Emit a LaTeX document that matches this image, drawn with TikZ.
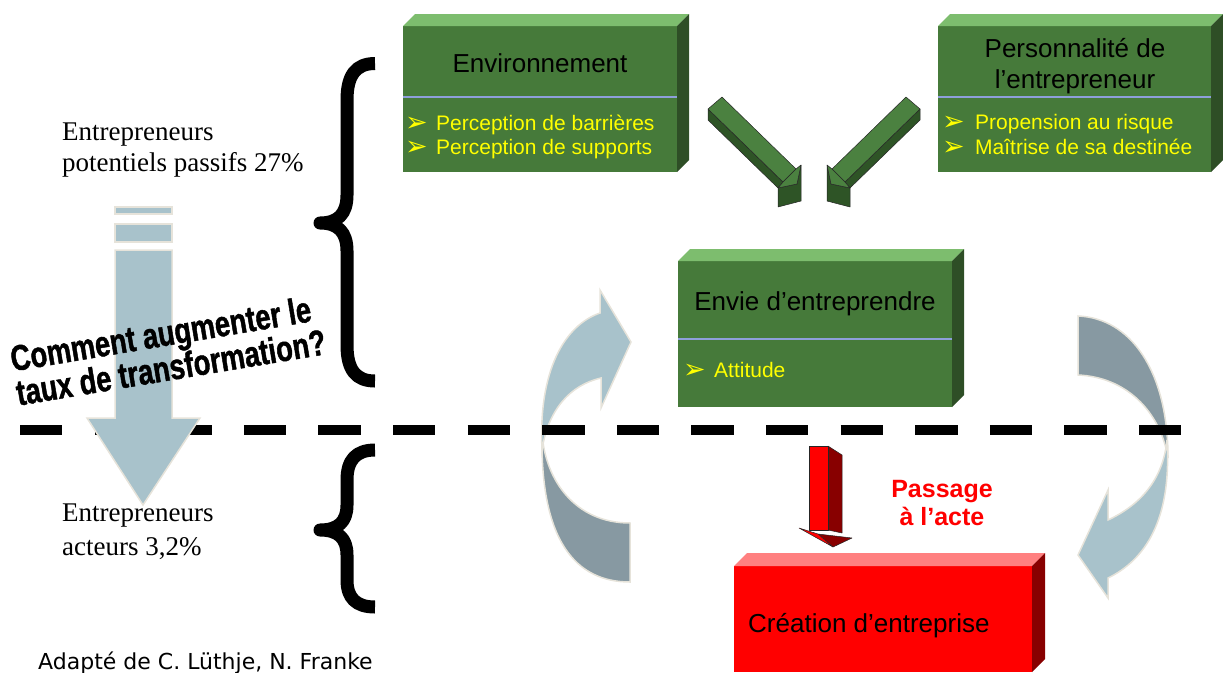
\documentclass[tikz,border=0pt]{standalone}
\usepackage{fontspec}
\setmainfont{Liberation Sans}
\newfontfamily\serifface{Liberation Serif}
\newfontfamily\dejavu{DejaVu Sans}
\newfontfamily\narrowsans[FakeStretch=0.76, BoldFeatures={FakeBold=1.2}]{Liberation Sans}
\usetikzlibrary{calc}

\definecolor{boxfront}{HTML}{467A3A}
\definecolor{boxtop}{HTML}{7DBD6E}
\definecolor{boxside}{HTML}{2E4E26}
\definecolor{arrowlight}{HTML}{4B8140}
\definecolor{arrowdark}{HTML}{2E5426}
\definecolor{rulecol}{HTML}{8E9FDA}
\definecolor{itemyellow}{HTML}{FFFF00}
\definecolor{flowlight}{HTML}{A8C2CB}
\definecolor{flowdark}{HTML}{8799A2}
\definecolor{flowedge}{HTML}{E6E3DA}
\definecolor{redfront}{HTML}{FF0000}
\definecolor{redtop}{HTML}{FF8080}
\definecolor{redside}{HTML}{880000}

% top and right faces of a block drawn behind a front node
\newcommand\boxfaces[4]{%
  \fill[#2] (#1.north west) -- ++(#4,-#4) -- ($(#1.north east)+(#4,-#4)$) -- (#1.north east) -- cycle;
  \fill[#3] (#1.north east) -- ++(#4,-#4) -- ($(#1.south east)+(#4,-#4)$) -- (#1.south east) -- cycle;}

% slanted 3D green arrow (pointing down-right)
\newcommand\greenarrow{%
  \filldraw[fill=arrowdark, arrowedge] (778,188) -- (797,184) -- (801,165) -- (801,201) -- (778,207) -- cycle;
  \filldraw[fill=arrowdark, arrowedge] (708,109) -- (783,182) -- (778,188) -- (708,120) -- cycle;
  \filldraw[fill=arrowlight, arrowedge] (708,109) -- (722,97) -- (796,169) -- (783,182) -- cycle;
  \filldraw[fill=arrowlight, arrowedge] (778,188) -- (797,184) -- (801,165) -- (796,169) -- (783,182) -- cycle;}

\tikzset{
  greenbox/.style={fill=boxfront, inner sep=0pt, outer sep=0pt, minimum width=274pt, minimum height=146pt},
  title/.style={font=\fontsize{26}{31}\selectfont, text=black, inner sep=0pt, anchor=base},
  item/.style={font=\fontsize{21}{25}\selectfont, text=itemyellow, inner sep=0pt, anchor=base west},
  itembullet/.style={font=\dejavu\fontsize{27}{30}\selectfont, text=itemyellow, inner sep=0pt, anchor=base west},
  sidetext/.style={font=\serifface\fontsize{27}{31}\selectfont, inner sep=0pt, anchor=base west},
  divider/.style={draw=rulecol, line width=2pt},
  flowband/.style={draw=flowedge, line width=1.5pt},
  arrowedge/.style={draw=black!85, line width=0.5pt, line join=round},
  bracestroke/.style={line width=13pt, line join=round},
  acttext/.style={font=\bfseries\fontsize{25}{28}\selectfont, text=redfront, inner sep=0pt, anchor=base}
}

\begin{document}
\begin{tikzpicture}[x=1pt,y=-1pt]
\useasboundingbox (0,0) rectangle (1223,672);

% circular flow arrows, left side
\filldraw[fill=flowdark, flowband] (542,433) .. controls (540,540) and (575,582) .. (630,582)
  -- (630,523) .. controls (575,523) and (545,480) .. (542,433) -- cycle;
\filldraw[fill=flowlight, flowband] (542,450) .. controls (538,370) and (565,325) .. (600,313)
  -- (600,290) -- (631,342) -- (601,408) -- (601,378)
  .. controls (570,385) and (548,410) .. (542,450) -- cycle;

% circular flow arrows, right side
\filldraw[fill=flowdark, flowband] (1078,316) .. controls (1130,318) and (1168,370) .. (1168,458)
  .. controls (1160,410) and (1125,377) .. (1078,375) -- cycle;
\filldraw[fill=flowlight, flowband] (1167,440) .. controls (1172,520) and (1145,560) .. (1108,578)
  -- (1108,598) -- (1078,555) -- (1108,490) -- (1108,520)
  .. controls (1140,505) and (1163,480) .. (1167,440) -- cycle;

% separation line
\coordinate (lineL) at (20,430);
\coordinate (lineR) at (1182,430);
\draw[line width=10pt, dash pattern=on 42.3pt off 32.3pt] (lineL) -- (lineR);

% broad downward arrow
\filldraw[fill=flowlight, flowband] (115,207) rectangle (172,214);
\filldraw[fill=flowlight, flowband] (115,224) rectangle (172,242);
\filldraw[fill=flowlight, flowband] (115,250) -- (172,250) -- (172,418) -- (200,418)
  -- (143,505) -- (87,418) -- (115,418) -- cycle;

% Environnement block
\node[greenbox] (env) at (540,99) {};
\boxfaces{env}{boxtop}{boxside}{12}
\draw[divider] (env.west |- 0,97) -- (env.east |- 0,97);
\node[title] (envT) at (540,72) {Environnement};
\node[itembullet] (envB1) at (405,131) {➢};
\node[item] (envI1) at (436,130) {Perception de barrières};
\node[itembullet] (envB2) at (405,155.5) {➢};
\node[item] (envI2) at (436,154.5) {Perception de supports};

% Personnalité block
\node[greenbox, minimum width=273pt] (pers) at (1074.5,99) {};
\boxfaces{pers}{boxtop}{boxside}{12}
\draw[divider] (pers.west |- 0,97) -- (pers.east |- 0,97);
\node[title] (persT1) at (1075,57) {Personnalité de};
\node[title] (persT2) at (1075,88) {l’entrepreneur};
\node[itembullet] (persB1) at (942,130.5) {➢};
\node[item] (persI1) at (975,129.5) {Propension au risque};
\node[itembullet] (persB2) at (942,155) {➢};
\node[item] (persI2) at (975,154) {Maîtrise de sa destinée};

% Envie block
\node[greenbox] (envie) at (815,334) {};
\boxfaces{envie}{boxtop}{boxside}{12}
\draw[divider] (envie.west |- 0,339) -- (envie.east |- 0,339);
\node[title] (envieT) at (815,310) {Envie d’entreprendre};
\node[itembullet] (envieB) at (683,378) {➢};
\node[item] (envieI) at (714,377) {Attitude};

% converging green arrows
\greenarrow
\begin{scope}[xshift=1628pt, xscale=-1]
\greenarrow
\end{scope}

% Création block
\node[fill=redfront, inner sep=0pt, outer sep=0pt, minimum width=298pt, minimum height=106pt] (crea) at (883,619) {};
\boxfaces{crea}{redtop}{redside}{13}
\node[title, anchor=base west] (creaT) at (748,632) {Création d’entreprise};

% red downward arrow
\filldraw[fill=redside, arrowedge] (828,446) -- (842,455) -- (842,533) -- (828,530) -- cycle;
\filldraw[fill=redfront, arrowedge] (809,446) rectangle (828,530);
\filldraw[fill=redside, arrowedge] (818,534) -- (852,538) -- (833,547) -- cycle;
\filldraw[fill=redfront, arrowedge] (799,528) -- (818,534) -- (833,547) -- cycle;
\node[acttext] (act1) at (942,497) {Passage};
\node[acttext] (act2) at (942,525) {à l’acte};

% braces
\draw[bracestroke] (375,63.5) .. controls (356,63.5) and (347,75) .. (347,100) -- (347,195)
  .. controls (347,214) and (338,223) .. (320,223) .. controls (338,223) and (347,232) .. (347,251)
  -- (347,345) .. controls (347,370) and (356,381) .. (375,381);
\draw[bracestroke] (375,450) .. controls (356,450) and (347,460) .. (347,480) -- (347,505)
  .. controls (347,522) and (338,530) .. (320,530) .. controls (338,530) and (347,538) .. (347,555)
  -- (347,580) .. controls (347,598) and (356,607) .. (375,607);

% question
\node[rotate=9.5, align=left, inner sep=0pt, font=\narrowsans\bfseries\fontsize{36}{32}\selectfont] (question) at (168,350)
  {Comment augmenter le\\taux de transformation?};

% side labels
\node[sidetext] (pass1) at (62,140) {Entrepreneurs};
\node[sidetext] (pass2) at (62,171) {potentiels passifs 27\%};
\node[sidetext] (act3) at (62,521) {Entrepreneurs};
\node[sidetext] (act4) at (62,555) {acteurs 3,2\%};

% source
\node[font=\dejavu\fontsize{22}{26}\selectfont, inner sep=0pt, anchor=base west] (source) at (38,669) {Adapté de C. Lüthje, N. Franke};
\end{tikzpicture}
\end{document}
